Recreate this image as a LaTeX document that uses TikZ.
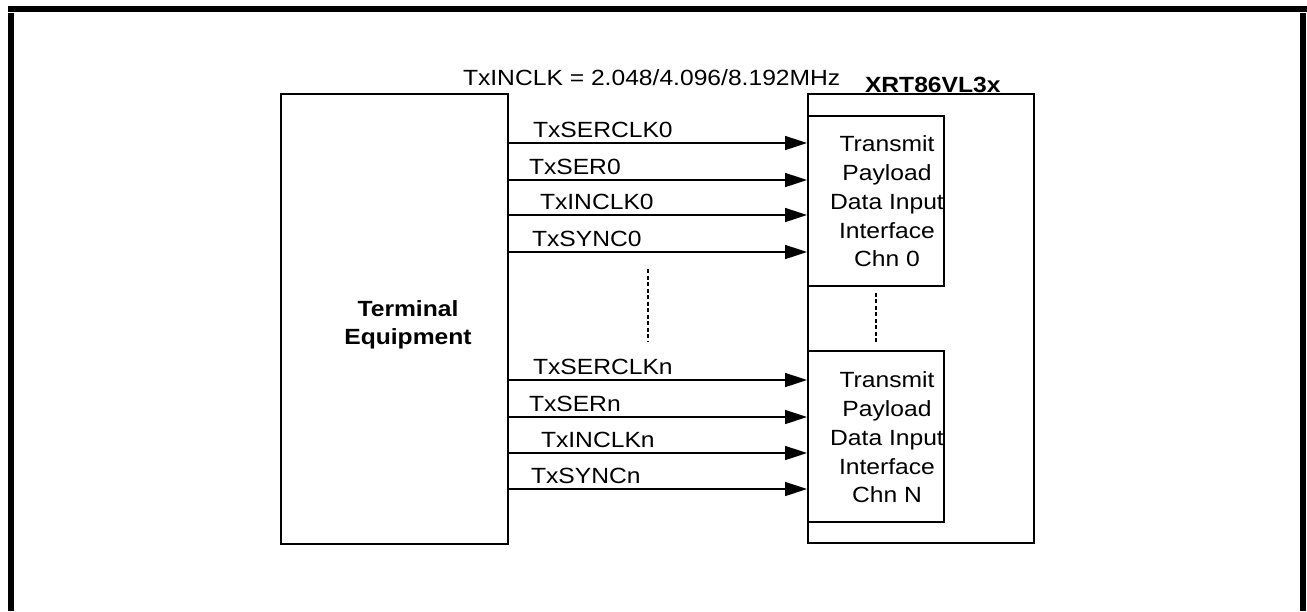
\documentclass[tikz,border=0pt]{standalone}
\usepackage{fontspec}
\setmainfont{Liberation Sans}[FakeStretch=1.12]
\usetikzlibrary{arrows.meta}
\begin{document}
\begin{tikzpicture}[x=1pt,y=-1pt,
  txt/.style={font=\fontsize{22}{28.7}\selectfont, inner sep=0pt, outer sep=0pt},
  lbl/.style={txt, anchor=base west},
  boldtxt/.style={font=\fontsize{22}{28}\selectfont\bfseries, inner sep=0pt, outer sep=0pt},
  blk/.style={draw, line width=1.8pt, inner sep=0pt, anchor=north west},
  sig/.style={line width=1.6pt, -{Triangle[length=22pt,width=14pt]}},
  dl/.style={line width=1.3pt, dash pattern=on 4pt off 2.5pt}]
% canvas and frame
\useasboundingbox (0,0) rectangle (1307,611);
\fill[white] (0,0) rectangle (1307,611);
\fill[black] (8,6) rectangle (1307,12);
\fill[black] (8,13) rectangle (14,611);
\fill[black] (1300,13) rectangle (1306,611);
% blocks
\node[blk, minimum width=227pt, minimum height=450pt] (term) at (280,93) {};
\node[blk, minimum width=226pt, minimum height=449pt] (xrt) at (807,93) {};
\node[blk, minimum width=136pt, minimum height=170pt] (sub0) at (807,115) {};
\node[blk, minimum width=136pt, minimum height=171pt] (subN) at (807,350) {};
% texts in blocks
\node[boldtxt, align=center] (termtxt) at (408,325) {Terminal\\Equipment};
\node[txt, align=center] (sub0txt) at (887,201.5) {Transmit\\Payload\\Data Input\\Interface\\Chn 0};
\node[txt, align=center] (subNtxt) at (887,437.5) {Transmit\\Payload\\Data Input\\Interface\\Chn N};
\node[lbl] (title) at (463,85) {TxINCLK = 2.048/4.096/8.192MHz};
\node[boldtxt, anchor=base west] (xrtlbl) at (865,92) {XRT86VL3x};
% signals channel 0
\foreach \y/\lab/\lx in {143/TxSERCLK0/533, 180/TxSER0/529, 215/TxINCLK0/540, 252/TxSYNC0/532}{
  \coordinate (a\y) at (0,\y);
  \draw[sig] (term.east |- a\y) -- (sub0.west |- a\y);
  \node[lbl] (l\y) at (\lx,\y-6) {\lab};
}
% signals channel n
\foreach \y/\lab/\lx in {380/TxSERCLKn/533, 417/TxSERn/529, 453/TxINCLKn/541, 489/TxSYNCn/531}{
  \coordinate (a\y) at (0,\y);
  \draw[sig] (term.east |- a\y) -- (subN.west |- a\y);
  \node[lbl] (l\y) at (\lx,\y-6) {\lab};
}
% continuation dots
\coordinate (d1) at (648,269);
\coordinate (d2) at (648,342);
\draw[dl] (d1) -- (d2);
\draw[dl] ([yshift=-6pt]sub0.south) -- ([yshift=6pt]subN.north);
\end{tikzpicture}
\end{document}
